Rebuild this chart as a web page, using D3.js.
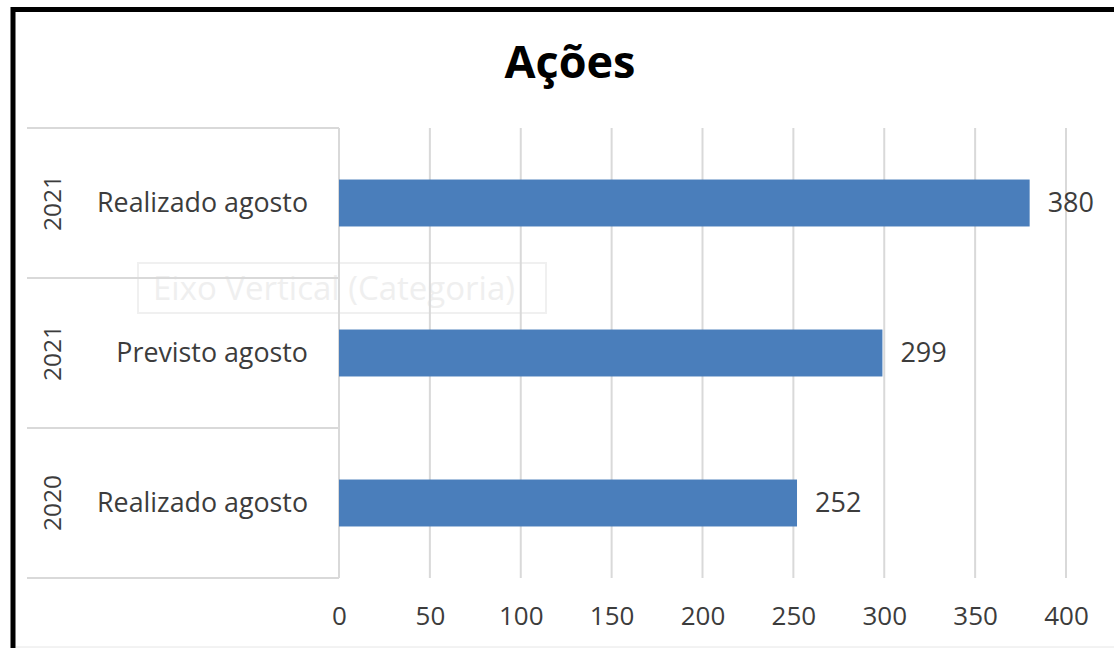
<!DOCTYPE html>
<html>
<head>
<meta charset="utf-8">
<script src="https://cdn.jsdelivr.net/npm/d3@7/dist/d3.min.js"></script>
<style>
  html, body { margin: 0; padding: 0; background: #fff; }
  svg { display: block; font-family: "Open Sans", "Noto Sans", sans-serif; }
</style>
</head>
<body>
<svg id="chart" width="1114" height="648"></svg>
<script>
// ---- data ----
const title = "Ações";
const years = ["2021", "2021", "2020"];
const labels = ["Realizado agosto", "Previsto agosto", "Realizado agosto"];
const values = [380, 299, 252];
const tickValues = [0, 50, 100, 150, 200, 250, 300, 350, 400];
const ghostText = "Eixo Vertical (Categoria)";

const keys = labels.map((l, i) => years[i] + "|" + l + "|" + i);

const svg = d3.select("#chart");
const W = 1114, H = 648;
svg.append("rect").attr("width", W).attr("height", H).attr("fill", "#fff");

const x = d3.scaleLinear().domain([0, 400]).range([339, 1066]);
const y = d3.scaleBand().domain(keys).range([128, 578]).padding(0);
const barFrac = 0.313;
const txt = "#3c3c3c";

// ghost axis-title box (faint)
svg.append("rect").attr("x", 138).attr("y", 263).attr("width", 408).attr("height", 50)
  .attr("fill", "none").attr("stroke", "#f0f0f0").attr("stroke-width", 2);
svg.append("text").attr("x", 153).attr("y", 300)
  .attr("font-size", 33).attr("fill", "#efefef").text(ghostText);

// gridlines
svg.append("g").selectAll("line").data(tickValues).join("line")
  .attr("x1", d => x(d)).attr("x2", d => x(d))
  .attr("y1", 128).attr("y2", 578)
  .attr("stroke", "#d9d9d9").attr("stroke-width", 2);

// category lines (band boundaries)
const bounds = keys.map(k => y(k)).concat([y(keys[keys.length - 1]) + y.bandwidth()]);
svg.append("g").selectAll("line").data(bounds).join("line")
  .attr("x1", 27).attr("x2", x(0))
  .attr("y1", d => d).attr("y2", d => d)
  .attr("stroke", "#d9d9d9").attr("stroke-width", 2);

// bars
const bh = y.bandwidth() * barFrac;
svg.append("g").selectAll("rect").data(keys).join("rect")
  .attr("x", x(0))
  .attr("y", d => y(d) + (y.bandwidth() - bh) / 2)
  .attr("width", (d, i) => x(values[i]) - x(0))
  .attr("height", bh)
  .attr("fill", "#4a7ebb");

// value labels
svg.append("g").selectAll("text").data(keys).join("text")
  .attr("x", (d, i) => x(values[i]) + 18)
  .attr("y", d => y(d) + y.bandwidth() / 2)
  .attr("dy", "0.35em")
  .attr("font-size", 27).attr("fill", txt)
  .text((d, i) => values[i]);

// category labels
svg.append("g").selectAll("text").data(keys).join("text")
  .attr("x", 308)
  .attr("y", d => y(d) + y.bandwidth() / 2)
  .attr("dy", "0.35em")
  .attr("text-anchor", "end")
  .attr("font-size", 26.8).attr("fill", txt)
  .text((d, i) => labels[i]);

// year labels (rotated)
svg.append("g").selectAll("text").data(keys).join("text")
  .attr("transform", d => `translate(52,${y(d) + y.bandwidth() / 2}) rotate(-90)`)
  .attr("dy", "0.35em")
  .attr("text-anchor", "middle")
  .attr("font-size", 24.5).attr("fill", txt)
  .text((d, i) => years[i]);

// x axis tick labels
const xAxis = d3.axisBottom(x).tickValues(tickValues).tickSize(0).tickPadding(0);
const gx = svg.append("g").attr("transform", "translate(0,607)").call(xAxis);
gx.select(".domain").remove();
gx.selectAll("text").attr("font-size", 26).attr("fill", txt)
  .attr("font-family", "\"Open Sans\", sans-serif").attr("dy", "0.71em");

// title
svg.append("text").attr("x", 570).attr("y", 78)
  .attr("text-anchor", "middle").attr("font-weight", "bold")
  .attr("font-size", 45).attr("fill", "#000").text(title);

// bottom faint line
svg.append("line").attr("x1", 16).attr("x2", W).attr("y1", 647).attr("y2", 647)
  .attr("stroke", "#e6e6e6").attr("stroke-width", 1);

// black frame (left + top)
svg.append("path").attr("d", `M13,${H} V9.5 H${W}`)
  .attr("fill", "none").attr("stroke", "#000").attr("stroke-width", 5);
</script>
</body>
</html>
